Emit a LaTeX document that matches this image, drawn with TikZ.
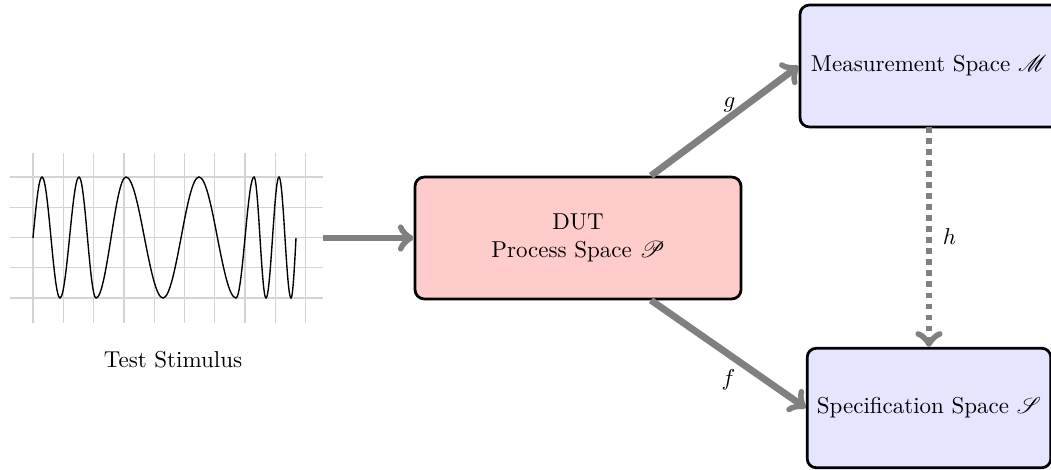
\documentclass[tikz,border=0pt]{standalone}
\usepackage{mathrsfs}
\usetikzlibrary{calc}
\begin{document}
\begin{tikzpicture}[x=0.435pt,y=-0.435pt,
  spacebox/.style={draw=black,line width=1.2pt,rounded corners=4pt,align=center,inner sep=0pt},
  flowarrow/.style={->,draw=black!50,line width=3pt},
  hdots/.style={->,draw=black!50,line width=3pt,dash pattern=on 2.5pt off 2.3pt},
  gridline/.style={draw=black!17,line width=0.6pt},
  lbl/.style={inner sep=2pt}]
\useasboundingbox (0,0) rectangle (1051,469);
% grid
\foreach \k in {0,...,9} \draw[gridline] (33+30.3*\k,153) -- (33+30.3*\k,323);
\foreach \k in {0,...,4} \draw[gridline] (10,177+30.25*\k) -- (323,177+30.25*\k);
% signal
\draw[black,line width=0.6pt] (33,238) sin (42,177) cos (51,238) sin (60,298) cos (69.5,238) sin (79,177)
  cos (87.5,238) sin (96,298) cos (111,238) sin (126,177) cos (144.5,238) sin (163,298)
  cos (181,238) sin (199,177) cos (217.5,238) sin (236,298) cos (245,238) sin (254,177)
  cos (260,238) sin (266,298) cos (272.5,238) sin (279,177) cos (285,238) sin (291,298) cos (296,238);
\node (stim) at (173,360) {Test Stimulus};
\coordinate (stimout) at (323,238);
% boxes
\node[spacebox,fill=red!20,minimum width=141.8pt,minimum height=53pt] (dut) at (578,238) {DUT\\Process Space $\mathscr{P}$};
\node[spacebox,fill=blue!10,minimum width=125pt,minimum height=53pt] (meas) at (943.7,66) {Measurement Space $\mathscr{M}$\hspace*{13pt}};
\node[spacebox,fill=blue!10,minimum width=106pt,minimum height=52pt] (spec) at (929,408) {Specification Space $\mathscr{S}$};
\coordinate (meassouth) at (929,127);
% connectors
\draw[flowarrow] (stimout) -- (dut.west);
\draw[flowarrow] ($(dut.north)+(73,0)$) -- node[lbl,midway,above=0.5pt,xshift=2pt] {$g$} (meas.west);
\draw[flowarrow] ($(dut.south)+(73,0)$) -- node[lbl,midway,below=3pt] {$f$} (spec.west);
\draw[hdots] (meassouth) -- node[lbl,midway,right=2.5pt] {$h$} (spec.north);
\end{tikzpicture}
\end{document}
